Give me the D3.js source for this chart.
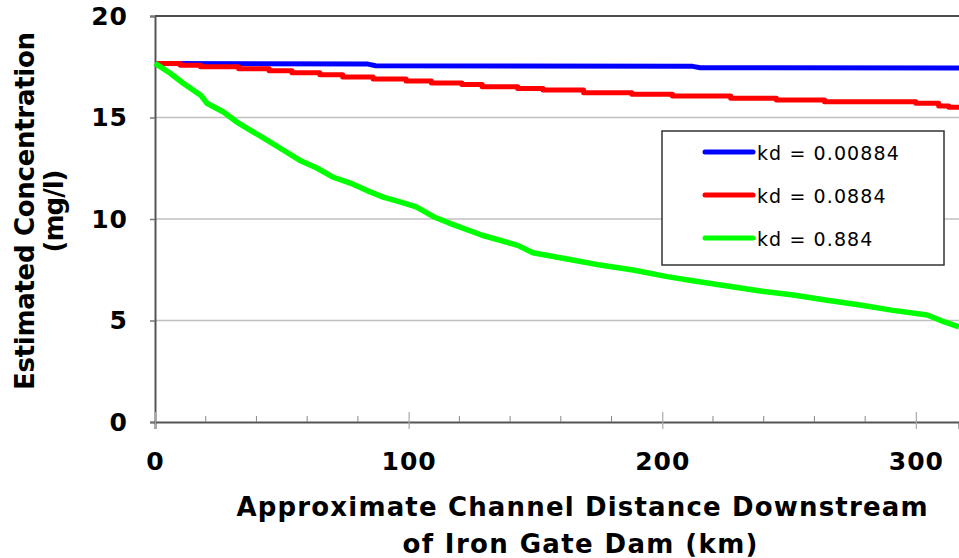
<!DOCTYPE html>
<html>
<head>
<meta charset="utf-8">
<script src="https://cdn.jsdelivr.net/npm/d3@7"></script>
<style>
  body { margin: 0; background: #fff; }
  text { font-family: "DejaVu Sans", Verdana, sans-serif; }
</style>
</head>
<body>
<div id="chart"></div>
<script>
// values
var blueKm   = [0, 84, 87, 212, 215, 317];
var blueConc = [17.66, 17.63, 17.55, 17.52, 17.45, 17.44];

// red curve is stepped: each value holds from its km to the next one
var redKm   = [0, 10, 18, 33, 45, 54, 65, 74, 86, 99, 109, 121, 129, 143, 153, 169, 188, 204, 227, 245, 264, 300, 309, 313, 317];
var redConc = [17.66, 17.58, 17.5, 17.4, 17.3, 17.2, 17.1, 17.0, 16.9, 16.8, 16.7, 16.62, 16.52, 16.43, 16.35, 16.22, 16.14, 16.06, 15.95, 15.86, 15.78, 15.7, 15.57, 15.5, 15.5];

var greenKm   = [0, 6, 11, 18, 20.5, 27, 32, 37.5, 44, 50.5, 57, 64, 70, 77, 83.6, 90, 96.6, 103, 110, 116, 129, 143, 149, 162.5, 175.5, 188.5, 202, 212, 225.6, 238.7, 251.7, 265, 278, 291, 304.5, 311, 317];
var greenConc = [17.67, 17.18, 16.7, 16.1, 15.7, 15.27, 14.8, 14.38, 13.9, 13.4, 12.9, 12.5, 12.07, 11.77, 11.4, 11.08, 10.84, 10.6, 10.1, 9.8, 9.2, 8.7, 8.34, 8.03, 7.73, 7.49, 7.16, 6.96, 6.7, 6.45, 6.26, 6.0, 5.76, 5.5, 5.27, 4.94, 4.69];

var seriesNames = ["kd = 0.00884", "kd = 0.0884", "kd = 0.884"];
var seriesColors = ["#0000ff", "#ff0000", "#00ff00"];

var xTicks = [0, 100, 200, 300];
var xMinorTicks = [20, 40, 60, 80, 120, 140, 160, 180, 220, 240, 260, 280];
var yTicks = [0, 5, 10, 15, 20];

function init(){
    var w = 959;
    var h = 558;

    var svg = d3.select("#chart")
      .append("svg")
      .attr("width", w)
      .attr("height", h);

    var xScale = d3.scaleLinear().domain([0, 317]).range([155, 959]);
    var yScale = d3.scaleLinear().domain([0, 20]).range([422, 16]);

    // gridlines
    svg.append("g")
      .selectAll("line")
      .data([5, 10, 15])
      .enter()
      .append("line")
      .attr("x1", xScale(0))
      .attr("x2", w)
      .attr("y1", function(d){ return yScale(d); })
      .attr("y2", function(d){ return yScale(d); })
      .attr("stroke", "#c0c0c0")
      .attr("stroke-width", 1.5);

    // top border
    svg.append("line")
      .attr("x1", xScale(0)).attr("x2", w)
      .attr("y1", yScale(20)).attr("y2", yScale(20))
      .attr("stroke", "#111").attr("stroke-width", 1.5);

    // y axis
    var yAxis = d3.axisLeft(yScale).tickValues(yTicks).tickSize(5).tickPadding(22).tickFormat(d3.format("d"));
    var gy = svg.append("g").attr("transform", "translate(" + xScale(0) + ",0)").call(yAxis);
    gy.attr("font-size", 25).attr("font-weight", "bold").attr("font-family", null);
    gy.select(".domain").attr("stroke", "#555").attr("stroke-width", 2);
    gy.selectAll(".tick line").attr("stroke", "#777").attr("stroke-width", 1.5);
    gy.selectAll(".tick text")
      .style("letter-spacing", "1px")
      .attr("fill", "#000");

    // x axis
    var xAxis = d3.axisBottom(xScale).tickValues(xTicks).tickSize(7).tickPadding(23).tickFormat(d3.format("d"));
    var gx = svg.append("g").attr("transform", "translate(0," + yScale(0) + ")").call(xAxis);
    gx.attr("font-size", 25).attr("font-weight", "bold").attr("font-family", null);
    gx.select(".domain").attr("stroke", "#555").attr("stroke-width", 2);
    gx.selectAll(".tick line").attr("y1", -10).attr("stroke", "#aaa").attr("stroke-width", 1.2);
    gx.selectAll(".tick text")
      .style("letter-spacing", "1px")
      .attr("fill", "#000");

    // minor x ticks
    svg.append("g")
      .selectAll("line")
      .data(xMinorTicks)
      .enter()
      .append("line")
      .attr("x1", function(d){ return xScale(d); })
      .attr("x2", function(d){ return xScale(d); })
      .attr("y1", yScale(0) - 6)
      .attr("y2", yScale(0))
      .attr("stroke", "#888")
      .attr("stroke-width", 1);

    // series
    var series = [
      { km: blueKm, conc: blueConc, curve: d3.curveLinear },
      { km: redKm, conc: redConc, curve: d3.curveStepAfter },
      { km: greenKm, conc: greenConc, curve: d3.curveLinear }
    ];

    series.forEach(function(s, i){
      var pts = s.km.map(function(k, j){ return [k, s.conc[j]]; });
      var line = d3.line()
        .x(function(d){ return xScale(d[0]); })
        .y(function(d){ return yScale(d[1]); })
        .curve(s.curve);
      svg.append("path")
        .datum(pts)
        .attr("d", line)
        .attr("fill", "none")
        .attr("stroke", seriesColors[i])
        .attr("stroke-width", i == 2 ? 5.5 : 5)
        .attr("stroke-linejoin", "round");
    });

    // legend
    var legend = svg.append("g");
    legend.append("rect")
      .attr("x", 662).attr("y", 131)
      .attr("width", 282).attr("height", 134)
      .attr("fill", "#fff")
      .attr("stroke", "#333")
      .attr("stroke-width", 1.5);

    seriesNames.forEach(function(name, i){
      var ly = 152 + i * 43;
      legend.append("line")
        .attr("x1", 705).attr("x2", 753)
        .attr("y1", ly).attr("y2", ly)
        .attr("stroke", seriesColors[i])
        .attr("stroke-width", 5)
        .attr("stroke-linecap", "round");
      legend.append("text")
        .attr("x", 757)
        .attr("y", ly + 8)
        .style("font-size", "19px")
        .style("letter-spacing", "1.1px")
        .text(name);
    });

    // x axis title
    svg.append("text")
      .attr("text-anchor", "middle")
      .attr("x", 582)
      .attr("y", 516)
      .attr("textLength", 691)
      .attr("lengthAdjust", "spacing")
      .style("font-size", "26px")
      .style("font-weight", "bold")
      .text("Approximate Channel Distance Downstream");
    svg.append("text")
      .attr("text-anchor", "middle")
      .attr("x", 580)
      .attr("y", 553)
      .attr("textLength", 355)
      .attr("lengthAdjust", "spacing")
      .style("font-size", "26px")
      .style("font-weight", "bold")
      .text("of Iron Gate Dam (km)");

    // y axis title
    svg.append("text")
      .attr("text-anchor", "middle")
      .attr("transform", "translate(34,211) rotate(-90)")
      .attr("textLength", 358)
      .attr("lengthAdjust", "spacing")
      .style("font-size", "26px")
      .style("font-weight", "bold")
      .text("Estimated Concentration");
    svg.append("text")
      .attr("text-anchor", "middle")
      .attr("transform", "translate(63,211) rotate(-90)")
      .attr("textLength", 83)
      .attr("lengthAdjust", "spacing")
      .style("font-size", "26px")
      .style("font-weight", "bold")
      .text("(mg/l)");
}

window.onload = init;
</script>
</body>
</html>
